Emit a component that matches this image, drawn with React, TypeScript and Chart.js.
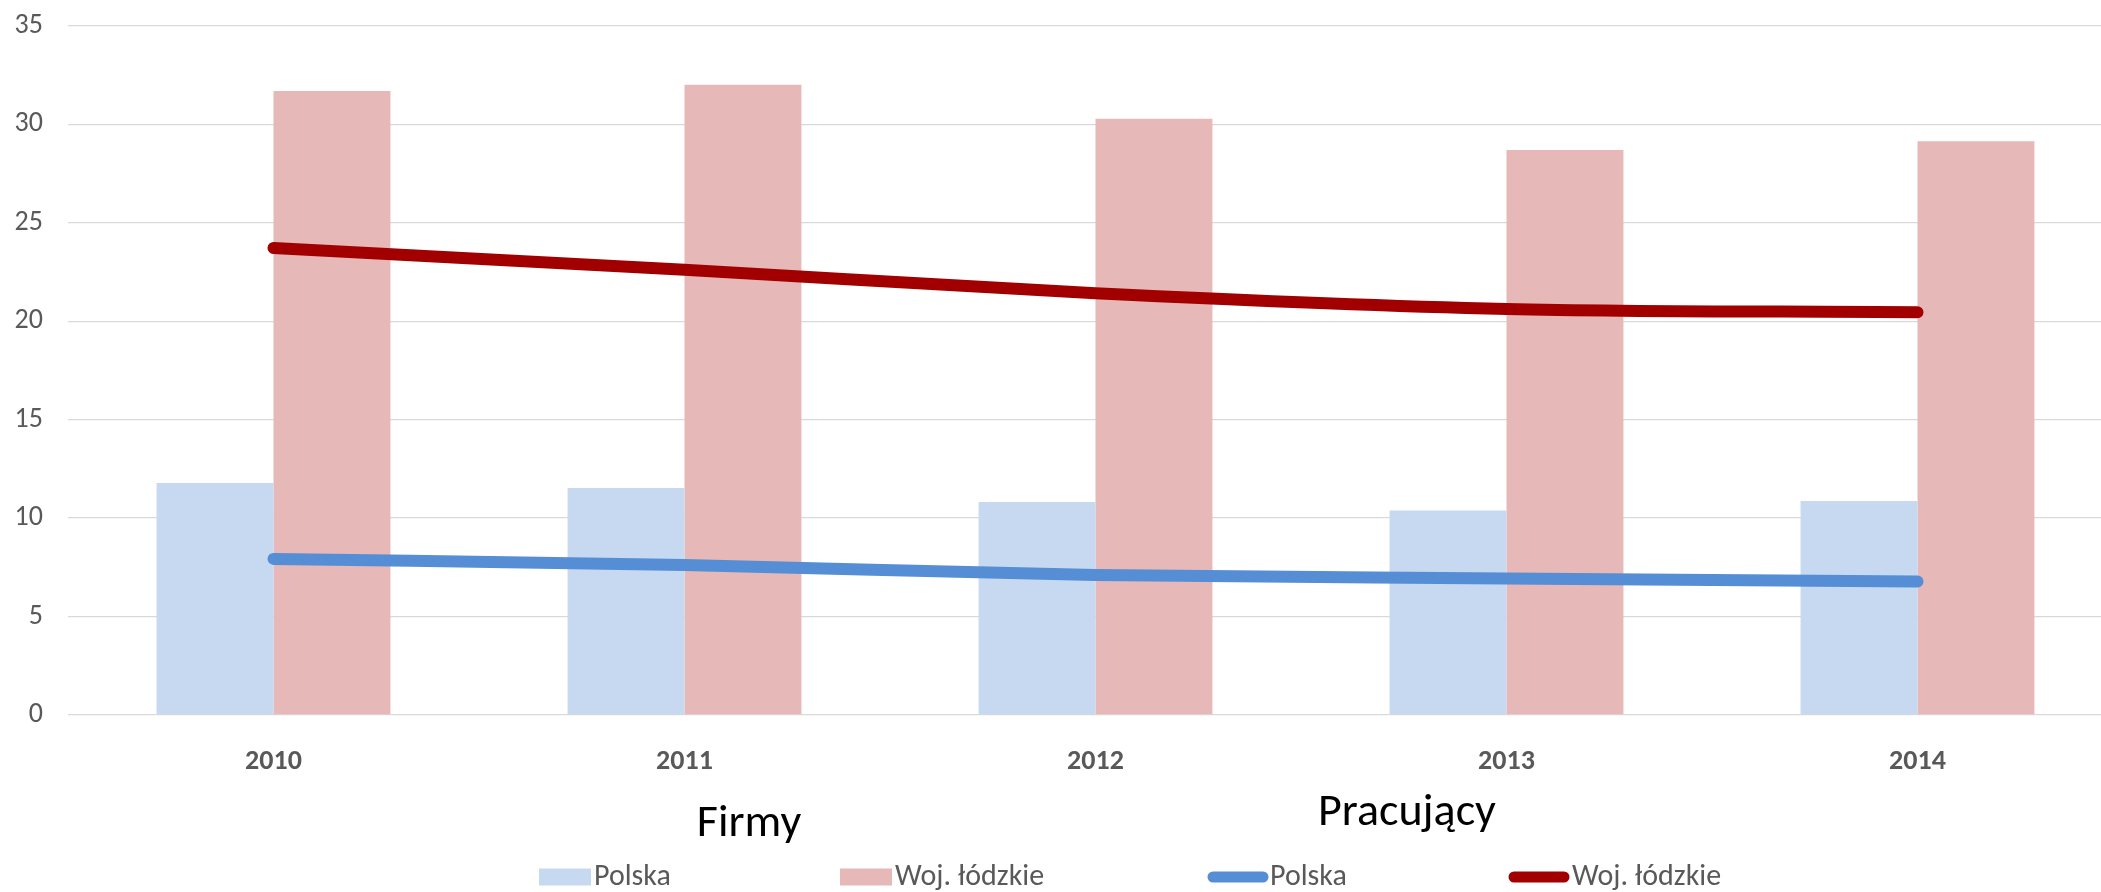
import React, { useEffect, useRef } from "react";
import { Chart, registerables } from "chart.js";

Chart.register(...registerables);

// ---- data ----
const years = ["2010", "2011", "2012", "2013", "2014"];
const firmyPolska = [11.79, 11.53, 10.82, 10.39, 10.87];
const firmyLodzkie = [31.7, 32.02, 30.29, 28.7, 29.15];
const pracujacyPolska = [7.93, 7.62, 7.11, 6.94, 6.78];
const pracujacyLodzkie = [23.72, 22.62, 21.43, 20.63, 20.46];
const yTickValues = [0, 5, 10, 15, 20, 25, 30, 35];
const groupTitles = ["Firmy", "Pracujący"];
const seriesNames = ["Polska", "Woj. łódzkie"];

const FONT = "Carlito, Lato, 'Open Sans', sans-serif";
const GREY = "#595959";
const COLORS = {
  barPolska: "#c6d9f0",
  barLodzkie: "#e6b8b7",
  linePolska: "#558ed5",
  lineLodzkie: "#a20000",
};

const legendPlugin = {
  id: "groupedLegend",
  afterDraw(chart: any) {
    const ctx = chart.ctx as CanvasRenderingContext2D;
    ctx.save();
    // group titles
    ctx.fillStyle = "#000000";
    ctx.font = `46px ${FONT}`;
    ctx.textAlign = "center";
    ctx.textBaseline = "alphabetic";
    ctx.fillText(groupTitles[0], 749, 836);
    ctx.fillText(groupTitles[1], 1407, 825);

    // legend items
    const markerX = [539, 840, 1207, 1508];
    const textX = [594, 895, 1270, 1572];
    const cy = 877;
    ctx.font = `30px ${FONT}`;
    ctx.textAlign = "left";
    ctx.textBaseline = "middle";
    chart.data.datasets.forEach((ds: any, i: number) => {
      if (ds.type === "bar") {
        ctx.fillStyle = ds.backgroundColor;
        ctx.fillRect(markerX[i], cy - 8.5, 52, 17);
      } else {
        ctx.strokeStyle = ds.borderColor;
        ctx.lineWidth = 11;
        ctx.lineCap = "round";
        ctx.beginPath();
        ctx.moveTo(markerX[i] + 6, cy);
        ctx.lineTo(markerX[i] + 56, cy);
        ctx.stroke();
      }
      ctx.fillStyle = GREY;
      ctx.fillText(ds.label, textX[i], cy);
    });
    ctx.restore();
  },
};

export default function App() {
  const canvasRef = useRef<HTMLCanvasElement | null>(null);

  useEffect(() => {
    if (!canvasRef.current) return;
    const chart = new Chart(canvasRef.current, {
      type: "bar",
      data: {
        labels: years,
        datasets: [
          {
            type: "bar",
            label: seriesNames[0],
            data: firmyPolska,
            backgroundColor: COLORS.barPolska,
            borderWidth: 0,
            order: 2,
          },
          {
            type: "bar",
            label: seriesNames[1],
            data: firmyLodzkie,
            backgroundColor: COLORS.barLodzkie,
            borderWidth: 0,
            order: 2,
          },
          {
            type: "line",
            label: seriesNames[0],
            data: pracujacyPolska,
            borderColor: COLORS.linePolska,
            backgroundColor: COLORS.linePolska,
            borderWidth: 12,
            borderCapStyle: "round",
            borderJoinStyle: "round",
            pointRadius: 0,
            pointHoverRadius: 0,
            cubicInterpolationMode: "monotone",
            fill: false,
            order: 1,
          },
          {
            type: "line",
            label: seriesNames[1],
            data: pracujacyLodzkie,
            borderColor: COLORS.lineLodzkie,
            backgroundColor: COLORS.lineLodzkie,
            borderWidth: 12,
            borderCapStyle: "round",
            borderJoinStyle: "round",
            pointRadius: 0,
            pointHoverRadius: 0,
            cubicInterpolationMode: "monotone",
            fill: false,
            order: 1,
          },
        ],
      },
      options: {
        responsive: false,
        animation: false,
        layout: { padding: { top: 26, right: 17, left: 0, bottom: 0 } },
        plugins: {
          legend: { display: false },
          tooltip: { enabled: false },
          title: { display: false },
        },
        datasets: {
          bar: { categoryPercentage: 0.569, barPercentage: 1 },
        },
        scales: {
          x: {
            grid: { display: false, drawTicks: false },
            border: { display: false },
            ticks: {
              color: GREY,
              font: { family: FONT, size: 28, weight: "bold" },
              padding: 30,
            },
            afterFit: (scale: any) => {
              scale.height = 177;
              scale.paddingLeft = 0;
              scale.paddingRight = 0;
              scale.paddingTop = 0;
              scale.paddingBottom = 0;
            },
          },
          y: {
            min: 0,
            max: 35,
            afterBuildTicks: (scale: any) => {
              scale.ticks = yTickValues.map((v) => ({ value: v }));
            },
            grid: { color: "#d9d9d9", lineWidth: 1.3, drawTicks: false },
            border: { display: false },
            ticks: {
              color: GREY,
              font: { family: FONT, size: 28 },
              padding: 25,
            },
            afterFit: (scale: any) => {
              scale.width = 68;
              scale.paddingTop = 0;
              scale.paddingBottom = 0;
              scale.paddingLeft = 0;
              scale.paddingRight = 0;
            },
          },
        },
      },
      plugins: [legendPlugin],
    } as any);
    return () => chart.destroy();
  }, []);

  return (
    <div
      style={{
        position: "fixed",
        left: 0,
        top: 0,
        width: 2101,
        height: 892,
        overflow: "hidden",
        background: "#ffffff",
      }}
    >
      <canvas
        ref={canvasRef}
        width={2140}
        height={892}
        style={{ display: "block", width: 2140, height: 892 }}
      />
    </div>
  );
}
